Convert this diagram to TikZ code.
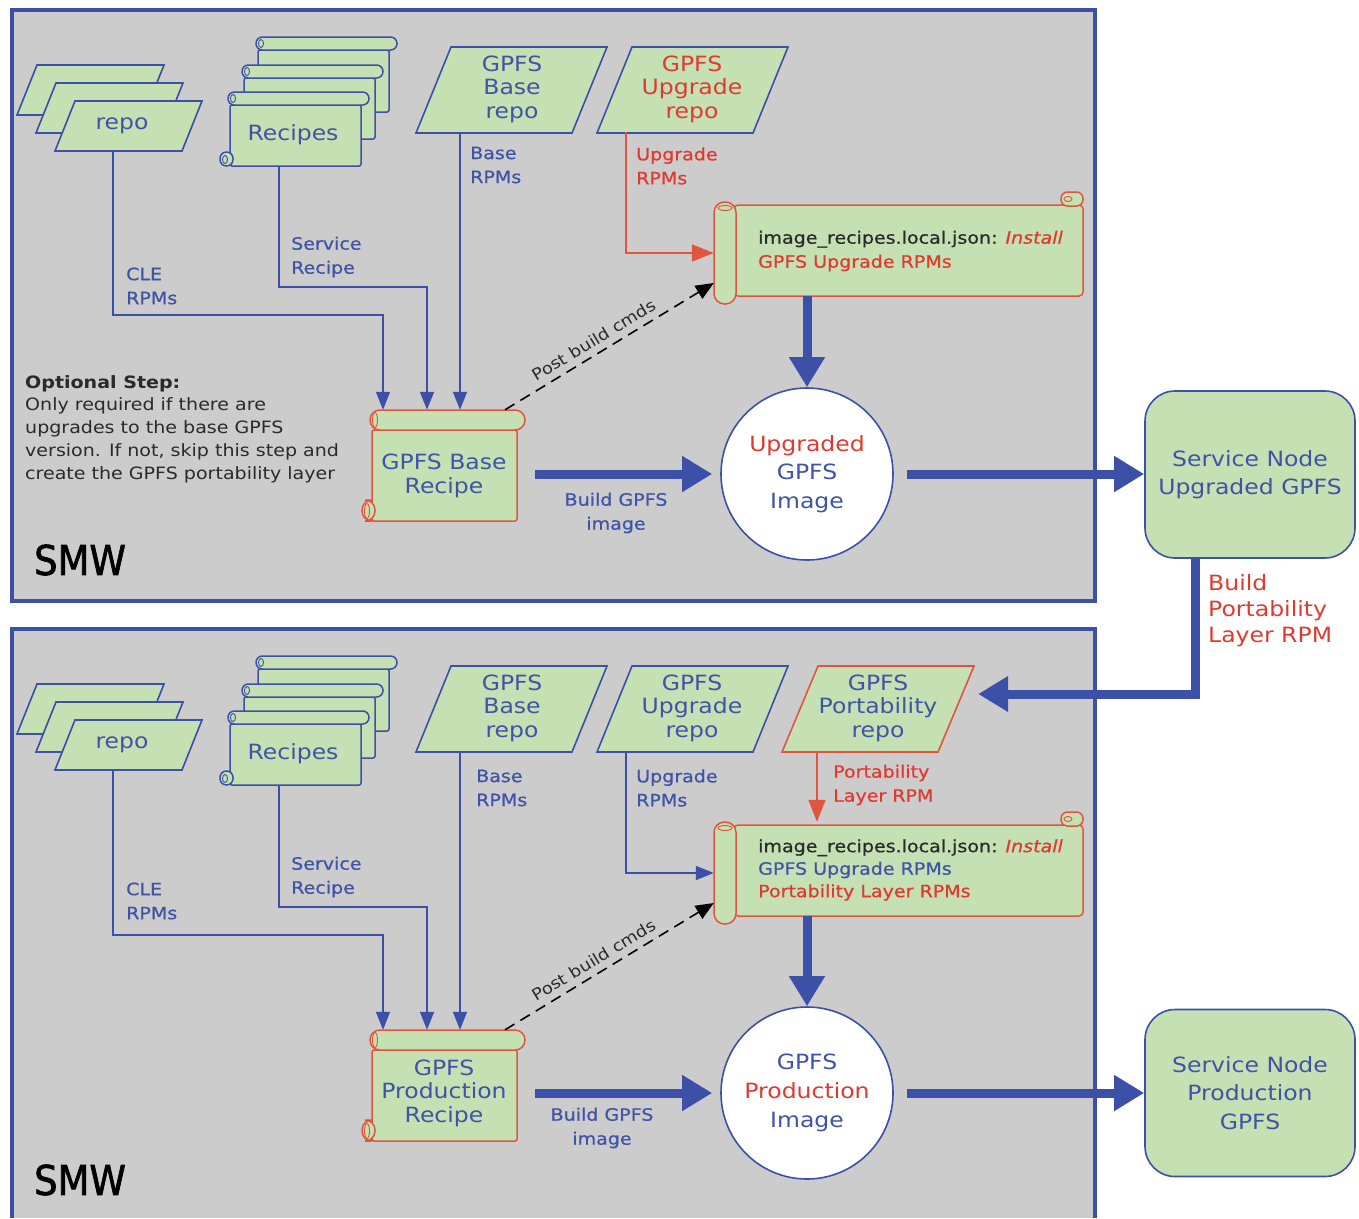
\documentclass[tikz,border=0pt]{standalone}
\usepackage{fontspec}
\setmainfont{DejaVu Sans}[FakeStretch=1.12]
\newfontfamily\lblfont{DejaVu Sans}[FakeStretch=1.12,FakeBold=0.7]
\newfontfamily\smwfont{DejaVu Sans}[FakeStretch=0.9,FakeBold=1.6]
\usetikzlibrary{arrows.meta,calc}
\definecolor{bgray}{HTML}{CCCCCC}
\definecolor{lgreen}{HTML}{C5E0B3}
\definecolor{dblue}{HTML}{3C50A8}
\definecolor{tblue}{HTML}{3F54A6}
\definecolor{dred}{HTML}{E03A2E}
\definecolor{bred}{HTML}{E05540}
\definecolor{dtext}{HTML}{2A2A2A}
% parallelogram: bottom-left x, top y, bottom y, width, slant, colour
\newcommand{\para}[6]{\draw[draw=#6,line width=1.6pt,fill=lgreen,line join=miter] (#1,#3) -- ++(#5,#2-#3) -- ++(#4,0) -- ++(-#5,#3-#2) -- cycle;}
% recipe scroll: x1 y1 x2 y2 rollheight radius colour
\newcommand{\rscroll}[7]{%
  \draw[draw=#7,line width=1.5pt,fill=lgreen,rounded corners=2pt] (#1+2,#2+#5) rectangle (#3-8,#4);
  \draw[draw=#7,line width=1.5pt,fill=lgreen,rounded corners=#6pt] (#1-8,#4-#5-1) rectangle (#1+5,#4);
  \draw[draw=#7,line width=0.9pt] (#1-3,#4-#5/2) ellipse [x radius=2.5,y radius=#5/2-2.5];
  \draw[draw=#7,line width=1.5pt,fill=lgreen,rounded corners=#6pt] (#1,#2) rectangle (#3,#2+#5);
  \draw[draw=#7,line width=0.9pt] (#1+5,#2+#5/2) ellipse [x radius=2.5,y radius=#5/2-2.5];
}
% vertical-roll scroll: x1 y1 x2 y2 colour
\newcommand{\vscroll}[5]{%
  \draw[draw=#5,line width=1.5pt,fill=lgreen,rounded corners=4pt] (#1+20,#2+3) rectangle (#3,#4-8);
  \draw[draw=#5,line width=1.5pt,fill=lgreen,rounded corners=6.5pt] (#3-22,#2-10) rectangle (#3,#2+4);
  \draw[draw=#5,line width=0.9pt] (#3-15,#2-3) ellipse [x radius=4,y radius=2.5];
  \draw[draw=#5,line width=1.5pt,fill=lgreen,rounded corners=10.5pt] (#1,#2) rectangle (#1+22,#4);
  \draw[draw=#5,line width=0.9pt] (#1+11,#2+6) ellipse [x radius=7,y radius=2.5];
}
\tikzset{
  panel/.style={fill=bgray,draw=dblue,line width=4pt},
  big/.style={font=\fontsize{21}{23.5}\selectfont,align=center,inner sep=0pt},
  lbl/.style={font=\lblfont\fontsize{17}{24}\selectfont,align=left,inner sep=0pt,anchor=west},
  shapebox/.style={inner sep=0pt,draw=none},
  thinarr/.style={draw=dblue,line width=1.6pt,-{Triangle[length=18pt,width=14pt]}},
  thinred/.style={draw=bred,line width=1.6pt,-{Triangle[length=22pt,width=17pt]}},
  fatarr/.style={draw=dblue,line width=9pt,-{Triangle[length=30pt,width=34pt]}},
  dasharr/.style={draw=black,line width=1.6pt,dash pattern=on 11pt off 7pt,-{Triangle[length=18pt,width=15pt]}},
  svcnode/.style={draw=dblue,line width=1.6pt,fill=lgreen,rounded corners=30pt,minimum width=210pt,minimum height=167pt,inner sep=0pt,align=center,text=tblue,font=\fontsize{21}{28.5}\selectfont},
  imgnode/.style={circle,draw=dblue,line width=1.6pt,fill=white,minimum size=172pt,inner sep=0pt,align=center,text=tblue,font=\fontsize{21}{28.8}\selectfont},
  smw/.style={anchor=west,inner sep=0pt,font=\smwfont\fontsize{41}{44}\selectfont,text=black},
  postlbl/.style={midway,sloped,above=3pt,xshift=-10pt,font=\fontsize{16}{18}\selectfont,text=dtext},
}
\begin{document}
\begin{tikzpicture}[x=1pt,y=-1pt]
\useasboundingbox (0,0) rectangle (1359,1218);
\fill[white] (0,0) rectangle (1359,1218);
% panels
\draw[panel] (12,10) rectangle (1095,601);
\fill[bgray] (12,629) rectangle (1095,1218);
\draw[dblue,line width=4pt] (12,1218) -- (12,629) -- (1095,629) -- (1095,1218);

%================ TOP PANEL =================
\para{17}{65}{115}{127}{20}{dblue}
\para{36}{83}{133}{127}{20}{dblue}
\para{55}{101}{151}{127}{20}{dblue}
\node[big,text=tblue,minimum width=127pt,minimum height=50pt] (repo1) at (122,126) {repo};

\rscroll{256}{37}{397}{112}{13}{6.4}{dblue}
\rscroll{242}{65}{383}{139}{13}{6.4}{dblue}
\rscroll{228}{92}{369}{166}{13}{6.4}{dblue}
\node[big,text=tblue,minimum height=62pt] (recipes1) at (293,135) {Recipes};

\para{416}{47}{133}{156}{35}{dblue}
\node[big,text=tblue,minimum width=156pt,minimum height=86pt] (baserepo1) at (512,89) {GPFS\\Base\\repo};
\para{597}{47}{133}{156}{35}{dblue}
\node[big,text=dred,minimum width=156pt,minimum height=86pt] (upgrepo1) at (692,89) {GPFS\\Upgrade\\repo};

\rscroll{370}{410}{525}{521}{20}{9.9}{bred}
\node[shapebox,minimum width=148pt,minimum height=111pt] (baserec1) at (444,465.5) {};
\node[big,text=tblue] (baserec1t) at (444,476) {GPFS Base\\Recipe};

\vscroll{714}{202}{1083}{304}{bred}
\node[shapebox,minimum width=369pt,minimum height=102pt] (imgrec1) at (898.5,253) {};
\node[lbl,text=dtext] (imgrec1t) at (758,251)
  {image\_recipes.local.json: \textcolor{dred}{\itshape Install}\\\textcolor{dred}{GPFS Upgrade RPMs}};

\node[imgnode] (img1) at (807,474) {\textcolor{dred}{Upgraded}\\GPFS\\Image};
\node[svcnode] (svc1) at (1250,474.5) {Service Node\\Upgraded GPFS};

% labels
\node[lbl,text=tblue] (cle1) at (126,286) {CLE\\RPMs};
\node[lbl,text=tblue] (srv1) at (291,257) {Service\\Recipe};
\node[lbl,text=tblue] (brpm1) at (470,165) {Base\\RPMs};
\node[lbl,text=dred] (urpm1) at (636,166) {Upgrade\\RPMs};
\node[lbl,anchor=center,align=center,text=tblue] (bld1) at (616,513) {Build GPFS\\image};
\node[anchor=north west,inner sep=0pt,align=left,text=dtext,font=\fontsize{17}{22.8}\selectfont] (opt) at (25,375)
  {\textbf{Optional Step:}\\Only required if there are\\upgrades to the base GPFS\\version. If not, skip this step and\\create the GPFS portability layer};
\node[smw] (smw1) at (34,560) {SMW};
\node[big,anchor=west,align=left,text=dred,font=\fontsize{21}{26}\selectfont] (bpl) at (1208,611) {Build\\Portability\\Layer RPM};

% connectors
\draw[thinarr] ([xshift=-9pt]repo1.south) -- ++(0,164) -| ([xshift=-61pt]baserec1.north);
\draw[thinarr] ([xshift=-14pt]recipes1.south) -- ++(0,121) -| ([xshift=-17pt]baserec1.north);
\draw[thinarr] ([xshift=-52pt]baserepo1.south) -- ([xshift=16pt]baserec1.north);
\draw[thinred] ([xshift=-66pt]upgrepo1.south) |- (imgrec1.west);
\draw[dasharr] ([xshift=61pt]baserec1.north) -- ([yshift=-30pt]imgrec1.west)
  node[postlbl] {Post build cmds};
\coordinate (ir1b) at ([yshift=8pt]imgrec1.south);
\draw[fatarr] (ir1b -| img1.north) -- (img1.north);
\coordinate (br1e) at ([xshift=17pt]baserec1.east);
\draw[fatarr] (br1e |- img1.west) -- ([xshift=-8pt]img1.west);
\draw[fatarr] ([xshift=13pt]img1.east) -- (img1.east -| svc1.west);

%================ BOTTOM PANEL =================
\para{17}{684}{734}{127}{20}{dblue}
\para{36}{702}{752}{127}{20}{dblue}
\para{55}{720}{770}{127}{20}{dblue}
\node[big,text=tblue,minimum width=127pt,minimum height=50pt] (repo2) at (122,745) {repo};

\rscroll{256}{656}{397}{731}{13}{6.4}{dblue}
\rscroll{242}{684}{383}{758}{13}{6.4}{dblue}
\rscroll{228}{711}{369}{785}{13}{6.4}{dblue}
\node[big,text=tblue,minimum height=62pt] (recipes2) at (293,754) {Recipes};

\para{416}{666}{752}{156}{35}{dblue}
\node[big,text=tblue,minimum width=156pt,minimum height=86pt] (baserepo2) at (512,708) {GPFS\\Base\\repo};
\para{597}{666}{752}{156}{35}{dblue}
\node[big,text=tblue,minimum width=156pt,minimum height=86pt] (upgrepo2) at (692,708) {GPFS\\Upgrade\\repo};
\para{782}{666}{752}{156}{36}{bred}
\node[big,text=tblue,minimum width=156pt,minimum height=86pt] (portrepo) at (878,708) {GPFS\\Portability\\repo};

\rscroll{370}{1030}{525}{1141}{20}{9.9}{bred}
\node[shapebox,minimum width=148pt,minimum height=111pt] (prodrec) at (444,1085.5) {};
\node[big,text=tblue] (prodrect) at (444,1093) {GPFS\\Production\\Recipe};

\vscroll{714}{822}{1083}{924}{bred}
\node[shapebox,minimum width=369pt,minimum height=102pt] (imgrec2) at (898.5,873) {};
\node[lbl,font=\lblfont\fontsize{17}{22.5}\selectfont,text=dtext] (imgrec2t) at (758,870)
  {image\_recipes.local.json: \textcolor{dred}{\itshape Install}\\\textcolor{tblue}{GPFS Upgrade RPMs}\\\textcolor{dred}{Portability Layer RPMs}};

\node[imgnode] (img2) at (807,1093) {GPFS\\\textcolor{dred}{Production}\\Image};
\node[svcnode] (svc2) at (1250,1093) {Service Node\\Production\\GPFS};

\node[lbl,text=tblue] (cle2) at (126,901) {CLE\\RPMs};
\node[lbl,text=tblue] (srv2) at (291,877) {Service\\Recipe};
\node[lbl,text=tblue] (brpm2) at (476,788) {Base\\RPMs};
\node[lbl,text=tblue] (urpm2) at (636,788) {Upgrade\\RPMs};
\node[lbl,text=dred] (plr) at (833,785) {Portability\\Layer RPM};
\node[lbl,anchor=center,align=center,text=tblue] (bld2) at (602,1128) {Build GPFS\\image};
\node[smw] (smw2) at (34,1180) {SMW};

\draw[thinarr] ([xshift=-9pt]repo2.south) -- ++(0,165) -| ([xshift=-61pt]prodrec.north);
\draw[thinarr] ([xshift=-14pt]recipes2.south) -- ++(0,122) -| ([xshift=-17pt]prodrec.north);
\draw[thinarr] ([xshift=-52pt]baserepo2.south) -- ([xshift=16pt]prodrec.north);
\draw[thinarr] ([xshift=-66pt]upgrepo2.south) |- (imgrec2.west);
\coordinate (pr) at ([xshift=-61pt]portrepo.south);
\draw[thinred] (pr) -- (pr |- imgrec2.north);
\draw[dasharr] ([xshift=61pt]prodrec.north) -- ([yshift=-30pt]imgrec2.west)
  node[postlbl] {Post build cmds};
\coordinate (ir2b) at ([yshift=8pt]imgrec2.south);
\draw[fatarr] (ir2b -| img2.north) -- (img2.north);
\coordinate (pr2e) at ([xshift=17pt]prodrec.east);
\draw[fatarr] (pr2e |- img2.west) -- ([xshift=-8pt]img2.west);
\draw[fatarr] ([xshift=13pt]img2.east) -- (img2.east -| svc2.west);

% link between panels
\draw[fatarr] ([xshift=-55pt]svc1.south) |- ([xshift=22pt,yshift=14pt]portrepo.east);
\end{tikzpicture}
\end{document}
